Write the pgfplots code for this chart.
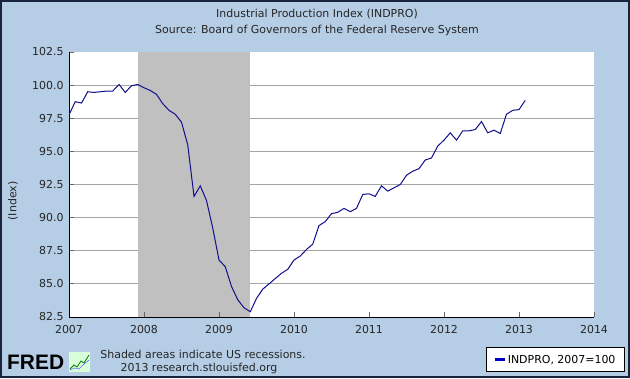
\documentclass[border=0pt]{standalone}
\usepackage{pgfplots}
\pgfplotsset{compat=1.18}
\usepackage{fontspec}
\setmainfont{DejaVu Sans}
\newfontfamily\fredfont{Liberation Sans}
\definecolor{bgblue}{RGB}{181,205,229}
\definecolor{framecol}{RGB}{25,35,60}
\definecolor{recess}{RGB}{192,192,192}
\definecolor{gridgray}{RGB}{165,165,165}
\definecolor{linecol}{RGB}{15,15,140}
\definecolor{legblue}{RGB}{0,0,200}
\newcommand{\ft}{\fontsize{11}{13}\selectfont}
\pgfplotstableread{
x y
2007.000 97.75
2007.083 98.75
2007.167 98.65
2007.250 99.50
2007.333 99.45
2007.417 99.50
2007.500 99.55
2007.583 99.55
2007.667 100.05
2007.750 99.45
2007.833 99.95
2007.917 100.05
2008.000 99.80
2008.083 99.60
2008.167 99.30
2008.250 98.60
2008.333 98.10
2008.417 97.80
2008.500 97.20
2008.583 95.50
2008.667 91.60
2008.750 92.40
2008.833 91.30
2008.917 89.20
2009.000 86.80
2009.083 86.30
2009.167 84.80
2009.250 83.80
2009.333 83.20
2009.417 82.90
2009.500 83.90
2009.583 84.60
2009.667 85.00
2009.750 85.40
2009.833 85.80
2009.917 86.10
2010.000 86.80
2010.083 87.10
2010.167 87.60
2010.250 88.00
2010.333 89.40
2010.417 89.70
2010.500 90.30
2010.583 90.40
2010.667 90.70
2010.750 90.45
2010.833 90.70
2010.917 91.75
2011.000 91.80
2011.083 91.60
2011.167 92.40
2011.250 92.00
2011.333 92.25
2011.417 92.50
2011.500 93.20
2011.583 93.50
2011.667 93.70
2011.750 94.35
2011.833 94.50
2011.917 95.40
2012.000 95.85
2012.083 96.40
2012.167 95.85
2012.250 96.55
2012.333 96.55
2012.417 96.65
2012.500 97.25
2012.583 96.40
2012.667 96.60
2012.750 96.35
2012.833 97.80
2012.917 98.10
2013.000 98.15
2013.083 98.85
}\indpro
\pgfplotsset{
  fredgeom/.style={
    at={(69bp,61bp)}, anchor=south west,
    scale only axis, width=525bp, height=265bp,
    xmin=2007, xmax=2014, ymin=82.5, ymax=102.5,
  },
}
\begin{document}
\begin{tikzpicture}[x=1bp,y=1bp]
\fill[bgblue] (0,0) rectangle (630,378);
\draw[framecol, line width=2bp] (1,1) rectangle (629,377);
\node[font=\ft, text=black!85] at (317,364) {Industrial Production Index (INDPRO)};
\node[font=\ft, text=black!85] at (317,348) {Source: Board of Governors of the Federal Reserve System};
\node[font=\ft, text=black!85, rotate=90] at (13,177) {(Index)};
\node[font=\ft, text=black!85] at (203,24) {Shaded areas indicate US recessions.};
\node[font=\ft, text=black!85] at (199,10) {2013 research.stlouisfed.org};
\node[font=\fredfont\bfseries\fontsize{21}{21}\selectfont, anchor=west, inner sep=0pt] at (7,16) {FRED};
\fill[white!85!green] (69,6) rectangle (90,26);
\draw[green!50!black, line width=0.8bp] (70,9) -- (74,13) -- (77,11) -- (81,17) -- (84,15) -- (89,23);
\draw[blue!60, line width=0.6bp] (70,8) -- (75,10) -- (79,9) -- (83,13) -- (89,18);
% background axis: white plot area, grid, recession shading
\begin{axis}[
  fredgeom,
  axis background/.style={fill=white},
  axis line style={draw=none},
  ytick={85,87.5,90,92.5,95,97.5,100},
  xtick=\empty,
  yticklabels={},
  major tick length=0pt,
  ymajorgrids,
  grid style={gridgray, line width=1bp},
]
\addplot[fill=recess, draw=none] coordinates {(2007.917,82.5) (2007.917,102.5) (2009.417,102.5) (2009.417,82.5)};
\end{axis}
% foreground axis: lines, ticks, labels, data, legend
\begin{axis}[
  fredgeom,
  axis x line*=bottom, axis y line*=left,
  axis line style={black, line width=1bp},
  xtick={2007,2008,2009,2010,2011,2012,2013,2014},
  xticklabels={2007,2008,2009,2010,2011,2012,2013,2014},
  ytick={82.5,85,87.5,90,92.5,95,97.5,100,102.5},
  tick align=inside,
  major tick length=5bp,
  tick style={black!60, line width=0.8bp},
  /pgf/number format/assume math mode=true,
  yticklabel style={xshift=-2bp, /pgf/number format/fixed, /pgf/number format/fixed zerofill, /pgf/number format/precision=1},
  tick label style={font=\ft, text=black!85},
  xticklabel style={yshift=-5bp},
  legend style={at={(1.0590,-0.2075)}, anchor=south east, draw=black, line width=1bp,
    fill=white, font=\ft, inner xsep=7bp, inner ysep=5bp,
    /tikz/every even column/.append style={column sep=6bp}},
  legend image code/.code={\draw[#1, line width=2.5bp, legblue] (0bp,0bp) -- (10bp,0bp);},
  legend cell align=left,
]
\addplot[linecol, line width=1bp, mark=none] table[x=x, y=y] {\indpro};
\addlegendentry{INDPRO, 2007=100}
\end{axis}
\pgfresetboundingbox
\useasboundingbox (0,0) rectangle (630,378);
\end{tikzpicture}
\end{document}
